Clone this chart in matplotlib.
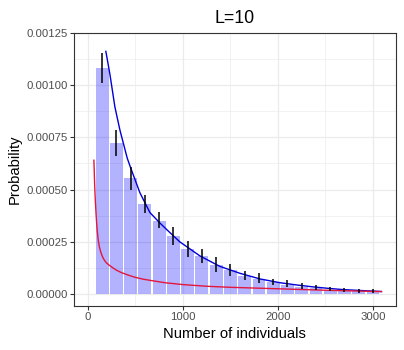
import matplotlib
matplotlib.use("Agg")
import matplotlib.pyplot as plt
from matplotlib.ticker import MultipleLocator, FixedLocator

plt.rcParams["font.family"] = ["Liberation Sans", "DejaVu Sans"]

# histogram bins (centres) and probabilities
bin_centers = [150, 300, 450, 600, 750, 900, 1050, 1200, 1350, 1500,
               1650, 1800, 1950, 2100, 2250, 2400, 2550, 2700, 2850, 3000]
probs = [0.00108, 0.000723, 0.000556, 0.000432, 0.000352, 0.000278, 0.000216,
         0.000183, 0.000140, 0.000116, 0.000086, 0.000075, 0.000058, 0.000044,
         0.000034, 0.000028, 0.000022, 0.000018, 0.000014, 0.000012]
err_low = [0.00101, 0.000658, 0.000498, 0.000387, 0.000314, 0.000235, 0.00018,
           0.000151, 0.000108, 0.000087, 0.000068, 0.000055, 0.000044, 0.000033,
           0.000025, 0.00002, 0.000017, 0.000011, 0.000008, 0.000005]
err_high = [0.00115, 0.000785, 0.00061, 0.000475, 0.000393, 0.00032, 0.000256,
            0.000216, 0.000177, 0.000145, 0.000111, 0.000103, 0.000074, 0.000066,
            0.000052, 0.000046, 0.000036, 0.000032, 0.000027, 0.000024]

# fitted curves
blue_x = [189, 232, 284, 337, 414, 453, 547, 653, 758, 850, 968, 1179, 1389,
          1600, 1811, 2021, 2200, 2372, 2530, 2688, 2860, 3039, 3090]
blue_y = [0.00116, 0.00105, 0.000895, 0.000784, 0.00065, 0.0006, 0.000485,
          0.00039, 0.00034, 0.0003, 0.00025, 0.000183, 0.000133, 0.0001,
          0.000073, 0.000055, 0.000044, 0.000035, 0.000028, 0.000022,
          0.000018, 0.000014, 0.000013]
red_x = [63, 66, 70, 74, 79, 85, 92, 100, 109, 120, 133, 148, 166, 190, 220,
         260, 300, 354, 420, 495, 580, 670, 811, 1000, 1250, 1500, 2000, 2500, 3090]
red_y = [0.00064, 0.0006, 0.00054, 0.00049, 0.00044, 0.00039, 0.00034,
         0.000295, 0.000258, 0.000228, 0.000205, 0.000185, 0.000168, 0.000152,
         0.00014, 0.000127, 0.000115, 0.000103, 0.000092, 0.000081, 0.000072,
         0.000065, 0.000055, 0.000046, 0.000038, 0.000033, 0.000026, 0.000019,
         0.0000125]

fig = plt.figure(figsize=(4.04, 3.5), dpi=100)
ax = fig.add_axes([0.183, 0.126, 0.797, 0.781])

ax.bar(bin_centers, probs, width=135, color="blue", alpha=0.3, zorder=2)
ax.plot(blue_x, blue_y, color="#0000D8", lw=1.0, zorder=3)
ax.plot(red_x, red_y, color="#E4163C", lw=1.0, zorder=3)
ax.vlines(bin_centers, err_low, err_high, color="black", lw=1.1, zorder=4)

ax.set_xlim(-147, 3242)
ax.set_ylim(-0.0000558, 0.00125)
ax.xaxis.set_major_locator(FixedLocator([0, 1000, 2000, 3000]))
ax.xaxis.set_minor_locator(FixedLocator([500, 1500, 2500]))
ax.yaxis.set_major_locator(MultipleLocator(0.00025))
ax.yaxis.set_minor_locator(MultipleLocator(0.000125))
ax.yaxis.set_major_formatter(matplotlib.ticker.FuncFormatter(lambda v, p: f"{v:.5f}"))

ax.grid(which="major", color="#EBEBEB", lw=0.9, zorder=0)
ax.grid(which="minor", color="#EBEBEB", lw=0.45, zorder=0)
ax.set_axisbelow(True)
for s in ax.spines.values():
    s.set_color("#333333")
    s.set_linewidth(0.8)
ax.tick_params(which="major", length=2.7, width=0.8, color="#333333",
               labelsize=8.2, labelcolor="#4D4D4D", pad=2)
ax.tick_params(which="minor", length=0)

ax.set_xlabel("Number of individuals", fontsize=10.6, labelpad=3)
ax.set_ylabel("Probability", fontsize=10.6, labelpad=3)
ax.set_title("L=10", fontsize=12.8, pad=7)

fig.savefig("out.png", dpi=100)
